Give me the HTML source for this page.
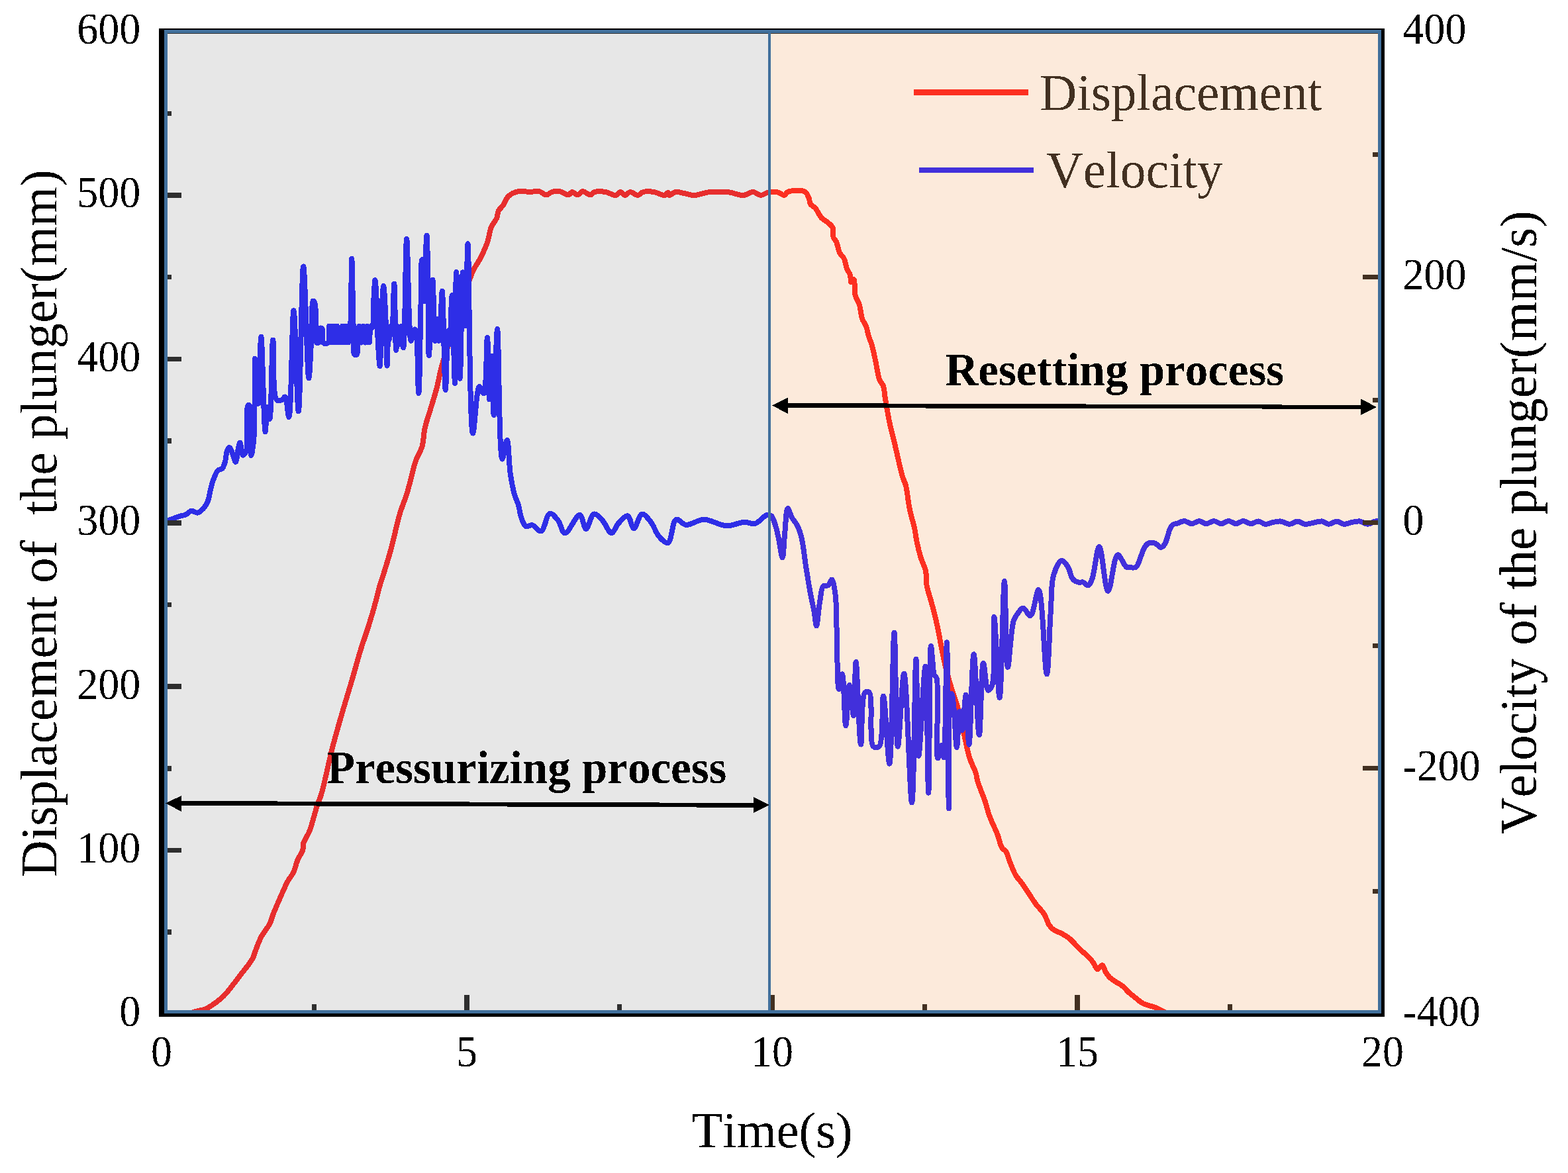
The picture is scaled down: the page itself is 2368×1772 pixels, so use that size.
<!DOCTYPE html>
<html><head><meta charset="utf-8"><title>Displacement and velocity of the plunger</title>
<style>
html,body{margin:0;padding:0;background:#fff;}
body{width:2368px;height:1772px;overflow:hidden;}
svg{display:block;}
text{font-family:"Liberation Serif","Times New Roman",serif;font-kerning:none;}
</style></head>
<body>
<svg width="2368" height="1772" viewBox="0 0 2368 1772">
<rect width="2368" height="1772" fill="#fff"/>
<defs><filter id="cr" x="-5%" y="-5%" width="110%" height="110%"><feComponentTransfer><feFuncA type="discrete" tableValues="0 1"/></feComponentTransfer></filter><clipPath id="pa"><rect x="248" y="45" width="1838" height="1486"/></clipPath></defs>
<g clip-path="url(#pa)" fill="none" stroke-linejoin="round" stroke-linecap="round" shape-rendering="crispEdges">
<path stroke="#ff0000" stroke-width="8" d="M244.0,1534.5 C244.0,1534.5 268.0,1535.2 276.0,1534.0 C281.0,1533.2 284.3,1531.7 288.0,1530.5 C291.2,1529.5 293.7,1528.4 297.0,1527.5 C300.9,1526.4 306.0,1526.1 310.0,1524.5 C314.0,1522.9 317.0,1520.7 321.0,1518.0 C326.2,1514.4 332.8,1509.5 338.0,1504.4 C343.2,1499.3 347.5,1493.2 352.0,1487.5 C356.5,1481.9 360.9,1475.8 365.0,1470.5 C368.7,1465.7 372.4,1461.2 375.4,1457.0 C377.9,1453.5 380.3,1450.4 382.0,1447.0 C383.6,1443.8 384.0,1441.1 385.5,1437.2 C387.8,1431.3 390.8,1422.3 394.5,1415.3 C398.2,1408.3 404.4,1401.5 407.5,1395.3 C409.9,1390.4 410.3,1386.7 412.4,1381.4 C415.2,1374.1 419.7,1363.9 423.4,1355.5 C427.0,1347.3 430.7,1338.4 434.4,1331.6 C437.3,1326.2 440.9,1322.7 443.3,1317.6 C445.9,1312.1 446.9,1305.4 449.3,1299.7 C451.6,1294.1 455.9,1288.5 457.3,1283.7 C458.3,1280.1 457.2,1277.4 458.3,1273.7 C459.8,1268.5 464.6,1262.4 467.3,1255.8 C470.4,1248.1 473.0,1237.2 475.2,1229.9 C476.8,1224.5 477.6,1220.7 479.2,1215.9 C480.9,1210.7 483.0,1207.3 485.2,1200.0 C489.8,1185.1 496.1,1152.4 501.8,1130.5 C506.9,1110.6 512.4,1091.9 517.6,1073.9 C522.4,1057.5 527.2,1042.2 531.7,1026.8 C536.1,1011.9 540.0,996.9 544.3,982.8 C548.3,969.7 552.9,957.7 556.8,945.1 C560.7,932.6 565.0,917.8 567.8,907.4 C569.8,900.0 570.6,895.2 572.5,888.5 C574.7,880.7 577.7,872.2 580.4,863.4 C583.4,853.5 587.1,841.9 589.8,832.0 C592.2,823.2 593.9,815.7 596.1,806.8 C598.6,796.9 600.9,785.8 604.0,775.4 C607.2,764.9 611.4,755.6 615.0,744.0 C619.4,729.9 623.3,709.2 627.8,696.5 C630.9,687.5 635.2,682.2 637.5,674.2 C640.0,665.6 639.6,655.6 641.7,646.4 C643.8,637.1 647.1,628.3 650.0,618.6 C653.1,608.0 657.0,596.2 659.8,585.3 C662.5,574.9 663.4,567.0 666.7,554.7 C671.9,535.5 682.1,506.1 690.0,482.0 C697.9,457.9 706.8,426.3 714.0,410.1 C717.9,401.3 721.6,397.7 725.1,390.7 C729.0,383.0 733.4,373.8 736.2,365.6 C738.8,358.1 739.2,349.8 741.8,343.4 C744.0,338.0 748.2,334.0 750.1,329.5 C751.7,325.7 751.2,321.7 752.9,318.4 C754.5,315.2 757.6,313.3 759.9,310.0 C762.7,306.0 764.3,299.6 768.2,296.1 C772.2,292.5 778.2,290.0 783.5,289.0 C788.8,288.0 794.9,290.0 800.2,290.0 C805.0,290.0 809.8,288.2 814.1,289.0 C818.1,289.8 821.8,294.6 825.2,294.5 C828.2,294.4 830.4,290.9 833.5,290.0 C836.9,289.0 840.8,288.4 844.7,289.0 C849.2,289.6 855.1,295.0 858.6,294.5 C861.0,294.1 862.0,290.2 864.1,290.0 C866.5,289.8 869.9,294.7 872.5,294.5 C875.0,294.3 876.6,289.4 879.4,289.0 C882.8,288.6 888.6,294.9 891.9,294.5 C894.4,294.2 895.3,290.9 898.0,290.0 C902.0,288.7 909.1,289.2 914.4,290.0 C919.7,290.8 925.8,295.6 929.9,295.0 C932.9,294.6 934.9,289.9 937.2,290.0 C939.5,290.1 941.4,294.9 943.7,295.0 C946.2,295.1 948.8,290.2 951.8,290.0 C955.2,289.8 959.8,295.2 963.2,295.0 C966.2,294.8 968.0,290.9 971.4,290.0 C975.8,288.8 982.3,289.2 987.7,290.0 C993.2,290.8 1000.2,295.7 1003.9,295.0 C1006.2,294.6 1007.5,290.8 1008.8,291.0 C1009.9,291.2 1010.0,294.7 1011.3,295.0 C1013.2,295.5 1016.8,290.6 1020.2,290.0 C1024.0,289.3 1028.7,291.2 1033.2,292.0 C1038.1,292.9 1043.2,295.1 1048.7,295.0 C1055.0,294.9 1062.6,291.3 1069.0,290.5 C1074.7,289.8 1079.9,290.0 1085.3,290.0 C1090.7,290.0 1095.8,289.8 1101.6,290.5 C1108.2,291.3 1116.3,295.4 1122.7,295.0 C1128.1,294.7 1132.8,289.8 1137.4,290.0 C1141.5,290.2 1145.0,294.9 1148.8,295.0 C1152.6,295.1 1156.1,291.3 1160.2,290.5 C1164.7,289.6 1170.5,289.6 1174.8,290.5 C1178.5,291.3 1182.0,295.5 1184.6,295.0 C1186.7,294.6 1186.9,291.1 1189.5,290.0 C1194.5,287.8 1210.1,286.6 1215.4,289.5 C1219.0,291.5 1220.3,296.3 1221.7,299.6 C1222.9,302.5 1222.3,305.7 1223.8,308.1 C1225.4,310.7 1228.8,311.6 1231.2,314.4 C1234.5,318.1 1237.3,325.5 1240.7,329.2 C1243.4,332.1 1246.5,333.1 1249.2,335.5 C1252.1,338.0 1256.1,340.4 1257.7,344.0 C1259.5,348.0 1257.4,355.0 1258.7,358.8 C1259.6,361.5 1261.6,362.4 1262.9,365.1 C1264.9,369.3 1265.9,377.5 1268.2,382.0 C1270.0,385.5 1272.9,387.1 1274.6,390.5 C1276.6,394.6 1277.1,400.9 1278.8,405.3 C1280.3,409.2 1283.1,412.3 1284.1,415.9 C1285.1,419.3 1283.9,426.0 1285.1,426.4 C1286.0,426.7 1288.3,421.8 1289.4,422.2 C1291.5,423.0 1289.8,438.7 1291.5,445.5 C1292.9,451.1 1296.1,454.8 1297.8,460.3 C1299.8,466.6 1300.0,475.4 1302.1,481.4 C1303.8,486.3 1306.8,489.8 1308.4,494.1 C1309.9,498.3 1310.3,502.4 1311.6,506.8 C1313.0,511.6 1315.2,516.1 1316.8,521.6 C1318.8,528.4 1320.3,536.6 1322.1,544.8 C1324.2,554.1 1325.8,567.7 1328.5,574.4 C1330.1,578.3 1332.5,579.3 1333.8,582.9 C1335.7,587.8 1335.6,594.5 1336.9,601.9 C1338.7,612.3 1341.2,628.2 1343.6,639.3 C1345.5,648.2 1347.5,654.7 1349.6,663.4 C1352.0,673.6 1354.8,686.5 1357.2,696.7 C1359.3,705.4 1361.1,714.2 1363.2,720.8 C1364.7,725.6 1366.4,727.7 1367.8,732.9 C1370.2,741.7 1371.4,757.7 1373.8,769.2 C1376.0,779.8 1379.6,790.6 1381.4,799.4 C1382.8,806.2 1383.1,811.1 1384.4,817.5 C1386.0,825.0 1388.1,834.0 1390.4,841.7 C1392.6,849.0 1396.5,855.7 1398.0,862.8 C1399.5,869.8 1398.2,876.6 1399.5,884.0 C1401.0,892.6 1404.5,901.9 1407.0,911.2 C1409.6,921.0 1412.3,931.3 1414.6,941.4 C1416.9,951.4 1418.6,961.5 1420.6,971.6 C1422.6,981.7 1424.2,991.1 1426.7,1001.8 C1429.6,1014.1 1433.7,1029.2 1437.3,1041.1 C1440.3,1051.0 1443.5,1058.2 1446.3,1068.3 C1449.7,1080.5 1452.8,1096.0 1455.9,1109.2 C1458.8,1121.6 1461.0,1134.5 1464.4,1145.1 C1467.2,1153.8 1472.0,1162.1 1473.9,1168.4 C1475.1,1172.5 1475.0,1175.2 1476.0,1179.0 C1477.3,1183.6 1479.4,1188.7 1481.3,1193.8 C1483.3,1199.3 1485.7,1204.7 1487.7,1210.7 C1489.9,1217.3 1491.8,1225.7 1494.0,1231.8 C1495.7,1236.6 1497.4,1240.0 1499.3,1244.5 C1501.5,1249.7 1504.5,1255.5 1506.7,1261.4 C1509.0,1267.5 1510.3,1276.0 1513.0,1280.4 C1514.8,1283.4 1517.5,1283.9 1519.4,1286.8 C1522.0,1290.9 1523.3,1297.9 1525.7,1303.7 C1528.2,1309.9 1531.0,1317.4 1534.2,1322.7 C1536.8,1326.9 1539.6,1329.2 1542.6,1333.3 C1546.5,1338.6 1551.5,1346.6 1555.3,1352.3 C1558.4,1357.0 1560.6,1360.7 1563.8,1365.0 C1567.4,1369.9 1573.3,1375.6 1576.2,1380.0 C1578.2,1383.0 1579.0,1385.4 1580.4,1388.3 C1581.8,1391.3 1582.7,1394.9 1584.6,1397.7 C1586.5,1400.5 1588.9,1403.0 1591.8,1405.0 C1595.0,1407.2 1599.5,1408.2 1603.3,1410.2 C1607.2,1412.3 1611.2,1414.6 1614.7,1417.4 C1618.2,1420.2 1620.9,1423.6 1624.1,1426.8 C1627.5,1430.2 1630.9,1433.8 1634.5,1437.2 C1638.2,1440.7 1642.8,1444.2 1645.9,1447.6 C1648.4,1450.4 1650.2,1453.1 1652.1,1455.9 C1654.0,1458.6 1655.2,1463.9 1657.3,1464.2 C1659.4,1464.5 1662.6,1457.6 1664.6,1458.0 C1666.8,1458.5 1667.9,1465.3 1669.8,1468.4 C1671.4,1471.1 1672.8,1473.4 1675.0,1475.7 C1677.5,1478.3 1681.1,1480.7 1684.4,1482.9 C1687.7,1485.2 1691.5,1486.6 1694.8,1489.2 C1698.4,1492.1 1701.6,1496.4 1705.2,1499.6 C1708.6,1502.6 1712.2,1505.2 1715.6,1507.9 C1718.8,1510.4 1721.5,1513.3 1724.9,1515.2 C1728.4,1517.2 1732.8,1518.3 1736.4,1519.5 C1739.5,1520.5 1741.8,1520.7 1745.0,1522.0 C1749.6,1523.8 1755.8,1528.0 1761.0,1530.0 C1765.7,1531.8 1769.6,1533.1 1775.0,1534.0 C1782.1,1535.1 1787.1,1534.7 1800.0,1535.0 C1843.7,1535.9 2088.0,1535.0 2088.0,1535.0"/>
<path stroke="#0000ff" stroke-width="8" d="M244.0,787.0 C244.0,787.0 250.0,786.9 252.9,786.3 C255.9,785.7 258.6,784.4 261.6,783.4 C264.9,782.3 268.5,780.7 271.8,779.7 C274.8,778.8 277.7,778.7 280.5,777.5 C283.5,776.2 286.2,772.1 289.2,771.7 C292.0,771.3 295.1,775.0 297.9,774.6 C300.9,774.2 304.1,771.4 306.6,768.8 C309.5,765.8 311.9,761.7 313.8,757.2 C316.0,751.8 316.7,744.2 318.2,738.4 C319.6,733.2 320.7,728.5 322.5,723.9 C324.3,719.3 326.3,713.4 329.0,710.8 C330.9,709.0 333.9,709.7 335.6,707.9 C337.7,705.7 338.8,701.6 339.9,697.8 C341.3,693.1 341.3,685.7 342.8,681.8 C343.8,679.3 345.1,675.9 346.4,676.0 C348.0,676.1 349.9,682.6 351.5,686.2 C353.1,689.9 354.6,697.9 355.9,697.8 C357.6,697.7 358.9,681.3 360.2,676.0 C361.0,672.9 361.6,668.8 362.4,668.8 C363.7,668.8 364.6,687.1 366.8,687.6 C368.2,687.9 370.5,685.2 371.8,681.8 C375.8,671.6 370.7,614.0 374.5,612.0 C375.4,611.5 376.7,612.4 377.6,614.0 C381.5,620.9 377.7,687.9 379.3,688.0 C380.3,688.1 382.4,673.6 383.4,661.5 C385.5,636.0 384.0,541.5 385.1,541.5 C385.7,541.5 386.7,563.7 387.3,575.0 C387.9,586.5 386.8,608.9 388.8,610.0 C389.3,610.3 390.0,609.8 390.5,609.0 C392.9,604.9 391.4,576.5 392.0,560.0 C392.7,543.1 393.4,508.6 394.4,508.6 C396.0,508.6 398.6,652.3 400.6,652.3 C401.6,652.3 402.3,615.1 403.7,615.0 C404.7,614.9 406.3,633.2 407.3,633.1 C410.0,632.9 410.3,513.5 412.2,513.5 C413.9,513.5 410.7,597.4 418.0,604.2 C420.1,606.2 423.6,605.1 425.7,604.2 C427.7,603.4 429.1,599.1 430.5,599.5 C433.5,600.4 434.6,630.1 436.3,630.0 C440.1,629.7 441.0,469.0 443.5,469.0 C445.9,469.0 448.5,621.4 450.8,621.4 C453.5,621.4 455.4,402.4 458.2,402.4 C460.7,402.4 464.0,571.2 466.3,571.2 C467.6,571.2 468.9,537.6 469.8,520.0 C470.7,501.3 470.3,472.2 471.5,462.0 C471.9,458.3 472.2,454.7 473.0,454.5 C473.6,454.4 474.9,456.2 475.5,458.0 C477.0,462.1 476.6,471.7 477.0,480.0 C477.5,490.8 475.0,514.6 478.0,517.5 C478.9,518.4 480.6,518.3 481.5,517.5 C483.7,515.4 480.8,498.1 483.0,496.0 C483.9,495.2 485.6,495.2 486.5,496.0 C488.8,498.1 485.7,515.4 488.5,518.0 C490.0,519.4 493.4,519.4 495.0,518.0 C498.1,515.2 496.2,492.5 497.0,492.5 C497.8,492.5 499.0,517.5 500.0,517.5 C501.0,517.5 502.0,492.5 503.0,492.5 C504.0,492.5 505.0,517.5 506.0,517.5 C507.0,517.5 508.0,492.5 509.0,492.5 C510.0,492.5 511.3,517.5 512.0,517.5 C512.4,517.5 512.6,508.0 513.0,508.0 C513.4,508.0 514.0,517.5 514.5,517.5 C515.3,517.5 516.1,492.5 517.0,492.5 C517.9,492.5 519.0,517.5 520.0,517.5 C521.0,517.5 522.0,492.5 523.0,492.5 C524.0,492.5 524.9,517.5 526.0,517.5 C526.9,517.5 528.0,508.4 528.8,500.0 C530.7,479.2 530.4,390.6 531.2,390.6 C532.0,390.6 532.9,473.5 533.8,500.0 C534.3,515.1 532.5,532.8 535.5,535.6 C536.4,536.5 538.1,536.4 539.0,535.6 C541.0,533.8 540.0,524.0 540.5,517.5 C541.1,509.8 541.7,492.5 542.5,492.5 C543.3,492.5 544.5,517.5 545.5,517.5 C546.5,517.5 547.5,492.5 548.5,492.5 C549.5,492.5 550.5,517.5 551.5,517.5 C552.5,517.5 553.7,492.5 554.5,492.5 C555.2,492.5 555.5,517.5 556.0,517.5 C556.3,517.5 556.7,507.0 557.0,507.0 C557.3,507.0 557.6,517.5 558.0,517.5 C558.6,517.5 558.2,493.2 560.0,492.5 C560.7,492.3 561.8,495.3 562.5,495.0 C565.0,494.0 563.7,463.1 564.5,450.0 C565.1,439.9 565.8,423.0 566.5,423.0 C567.2,423.0 568.0,439.6 568.5,450.0 C569.2,464.1 569.2,483.1 570.0,500.0 C570.9,517.4 572.6,553.0 573.6,553.0 C574.9,553.0 575.3,492.3 576.5,470.0 C577.3,454.9 578.3,432.0 579.2,432.0 C580.1,432.0 581.2,454.9 582.0,470.0 C583.2,492.2 583.8,552.6 584.6,552.6 C585.3,552.6 585.6,500.0 586.5,500.0 C586.9,500.0 587.5,513.0 588.0,513.0 C588.6,513.0 589.2,493.0 590.0,493.0 C590.6,493.0 591.4,505.0 592.0,505.0 C593.5,504.9 594.3,428.7 595.3,428.7 C596.4,428.7 597.0,528.9 598.2,528.9 C598.9,528.9 599.6,493.0 600.5,493.0 C601.3,493.0 602.2,520.0 603.0,520.0 C603.8,520.0 604.5,493.0 605.5,493.0 C606.6,493.0 608.1,525.5 609.2,525.5 C611.6,525.4 612.5,360.7 614.1,360.7 C615.6,360.7 616.9,466.4 618.5,492.2 C619.2,502.9 619.4,514.9 620.5,515.0 C621.4,515.1 622.3,502.7 624.0,500.0 C624.9,498.6 626.1,497.2 627.0,497.6 C631.5,499.6 630.8,594.3 632.2,594.3 C633.8,594.3 634.5,497.2 635.5,460.0 C636.2,433.5 635.3,392.5 637.5,392.0 C638.1,391.9 639.0,393.8 639.5,396.0 C641.5,404.0 640.3,455.0 640.8,455.0 C641.3,455.0 641.6,417.4 642.3,400.0 C642.9,384.4 643.9,355.5 644.5,355.5 C645.3,355.5 645.8,395.3 646.3,420.0 C647.0,453.3 646.6,537.2 647.8,537.2 C649.0,537.2 651.7,422.6 653.3,422.6 C654.7,422.6 655.5,514.8 657.0,514.8 C657.9,514.8 659.1,482.0 660.0,482.0 C660.9,482.0 661.6,515.0 662.5,515.0 C663.3,515.0 664.2,499.8 665.0,490.0 C666.1,476.1 666.9,439.6 667.8,439.6 C669.4,439.6 671.2,588.9 672.8,588.9 C674.1,588.9 674.9,500.1 676.5,500.0 C677.3,500.0 678.2,520.0 679.0,520.0 C680.5,519.9 681.4,446.1 682.6,446.1 C684.1,446.1 685.9,579.2 687.0,579.2 C688.2,579.2 687.8,410.9 689.1,410.9 C690.4,410.9 693.0,571.9 694.6,571.9 C696.2,571.9 697.1,411.3 698.9,411.3 C700.2,411.3 702.1,492.2 703.3,492.2 C704.8,492.2 705.2,368.3 706.5,368.3 C708.5,368.3 708.9,654.3 714.1,654.6 C716.7,654.7 719.2,585.1 723.9,584.1 C725.8,583.7 728.6,594.8 730.4,594.3 C735.1,593.1 734.5,510.2 735.9,510.2 C737.4,510.2 737.7,603.5 739.1,603.5 C740.3,603.5 742.4,537.8 743.5,537.8 C744.8,537.8 744.6,627.0 745.7,627.0 C747.0,627.0 749.2,497.2 751.1,497.2 C753.4,497.2 753.4,693.1 758.5,693.6 C760.5,693.8 763.8,664.7 765.7,664.8 C768.2,665.0 768.6,701.3 770.8,716.2 C772.5,727.8 774.6,738.4 777.0,747.0 C778.8,753.4 781.4,757.7 783.1,763.4 C784.8,769.3 785.1,776.4 787.2,781.9 C789.0,786.9 791.2,793.8 794.4,795.3 C797.0,796.5 800.5,792.6 803.7,793.2 C807.9,794.0 813.1,803.4 817.0,802.4 C822.4,801.0 825.3,776.9 830.4,775.8 C834.1,775.0 839.1,781.6 842.7,786.0 C846.9,791.1 848.5,805.0 853.0,805.5 C858.8,806.1 870.1,777.1 875.6,777.8 C880.0,778.4 881.5,798.9 885.0,799.0 C888.6,799.1 892.2,777.6 897.0,776.5 C900.8,775.7 905.8,782.0 909.8,786.1 C914.7,791.1 919.1,805.1 923.4,805.1 C927.2,805.1 930.2,794.5 934.3,790.2 C938.3,786.0 944.1,778.5 947.8,779.3 C951.9,780.2 953.9,798.2 957.3,798.3 C961.0,798.4 964.8,777.4 969.5,776.6 C973.5,775.9 979.1,783.8 983.1,788.8 C987.8,794.7 990.4,805.1 995.3,810.5 C999.3,814.9 1005.0,821.2 1008.8,820.0 C1014.5,818.2 1015.1,787.1 1021.1,784.8 C1025.2,783.2 1030.1,792.3 1036.0,792.9 C1043.6,793.7 1053.5,784.9 1063.1,784.8 C1073.8,784.7 1086.3,793.9 1097.0,794.3 C1106.5,794.6 1116.2,789.1 1124.1,788.8 C1130.2,788.6 1135.1,792.3 1140.4,790.9 C1146.5,789.3 1153.3,779.1 1158.0,778.0 C1160.6,777.4 1162.9,777.8 1164.8,779.3 C1167.5,781.4 1168.9,787.4 1170.6,792.3 C1172.7,798.4 1174.2,805.8 1175.9,813.4 C1177.9,822.2 1180.1,842.3 1181.6,842.2 C1183.4,842.1 1184.0,815.5 1185.4,802.8 C1186.7,790.8 1187.1,768.2 1189.6,767.8 C1191.2,767.5 1193.4,777.3 1195.9,781.7 C1198.4,786.1 1202.0,789.6 1204.4,794.4 C1207.1,799.9 1208.9,805.7 1210.7,813.4 C1213.4,824.6 1214.9,842.0 1217.1,855.7 C1219.2,868.7 1221.2,881.6 1223.4,893.7 C1225.4,904.8 1228.1,916.0 1229.8,925.4 C1231.1,932.8 1231.8,945.5 1232.9,945.5 C1234.5,945.5 1236.2,919.4 1238.2,908.5 C1239.8,899.8 1240.0,888.5 1243.5,885.3 C1245.4,883.5 1248.9,885.5 1250.9,884.2 C1253.3,882.6 1254.7,875.4 1256.2,875.6 C1258.5,876.0 1260.3,888.9 1261.5,898.0 C1263.4,911.8 1263.1,933.2 1263.6,950.8 C1264.1,968.4 1264.0,987.5 1264.6,1003.6 C1265.1,1017.1 1265.2,1040.9 1266.7,1041.0 C1267.9,1041.1 1270.4,1018.2 1271.9,1018.3 C1274.6,1018.5 1275.4,1096.3 1277.3,1096.3 C1279.0,1096.3 1280.6,1035.1 1282.7,1035.0 C1284.6,1035.0 1287.4,1081.1 1289.0,1081.0 C1291.1,1080.9 1291.0,1000.0 1292.6,1000.0 C1294.5,1000.0 1297.5,1124.6 1300.1,1124.6 C1302.1,1124.6 1300.1,1051.8 1306.4,1046.0 C1308.2,1044.4 1310.9,1044.4 1312.7,1046.0 C1319.1,1051.9 1311.7,1121.0 1318.9,1127.7 C1321.3,1129.9 1325.2,1129.9 1327.6,1127.7 C1334.6,1121.3 1331.6,1051.5 1334.0,1051.5 C1336.8,1051.5 1340.8,1153.8 1343.3,1153.7 C1346.8,1153.6 1348.3,955.7 1350.5,955.7 C1352.5,955.7 1352.9,1127.6 1355.9,1127.7 C1358.3,1127.8 1362.2,1017.5 1365.3,1017.5 C1369.4,1017.6 1374.1,1212.6 1377.1,1212.6 C1380.3,1212.6 1381.6,995.5 1383.4,995.5 C1384.9,995.5 1384.9,1141.8 1387.3,1141.9 C1389.6,1142.0 1395.1,1006.5 1397.5,1006.6 C1400.4,1006.7 1400.8,1197.7 1402.2,1197.7 C1403.7,1197.7 1403.6,976.1 1405.9,976.0 C1406.7,976.0 1407.6,992.4 1408.5,1000.0 C1409.3,1007.0 1409.3,1015.9 1411.0,1020.0 C1411.9,1022.1 1413.4,1021.6 1414.4,1024.2 C1418.9,1036.7 1412.5,1144.9 1416.2,1145.4 C1417.7,1145.6 1420.8,1125.8 1422.3,1125.9 C1423.8,1126.0 1424.5,1144.5 1425.4,1144.4 C1428.1,1144.2 1428.7,970.3 1429.9,970.3 C1431.4,970.3 1431.9,1221.4 1433.0,1221.4 C1433.9,1221.4 1430.3,1051.2 1435.7,1047.9 C1436.3,1047.5 1437.1,1048.0 1437.7,1048.9 C1441.5,1054.4 1442.9,1129.0 1444.9,1129.0 C1446.5,1129.0 1447.3,1074.7 1449.0,1074.6 C1450.2,1074.6 1451.7,1103.3 1453.1,1103.3 C1455.0,1103.3 1457.1,1049.5 1458.7,1049.5 C1460.6,1049.5 1461.7,1124.9 1463.4,1124.9 C1465.6,1124.9 1467.9,988.3 1470.6,988.3 C1473.1,988.3 1476.3,1110.1 1478.8,1110.1 C1481.1,1110.1 1481.8,1001.9 1485.0,1001.7 C1487.0,1001.6 1488.5,1041.7 1492.2,1042.7 C1493.9,1043.2 1496.7,1039.8 1498.3,1035.6 C1503.7,1021.6 1499.7,932.0 1501.4,932.0 C1503.3,932.0 1507.2,1054.0 1509.6,1054.0 C1512.5,1054.0 1514.7,878.2 1516.9,878.2 C1518.8,878.2 1518.9,1007.7 1521.9,1007.8 C1524.1,1007.9 1526.5,950.6 1530.8,937.6 C1532.6,932.2 1534.4,930.0 1536.8,926.8 C1539.2,923.7 1542.3,918.4 1545.3,918.5 C1548.7,918.6 1552.9,930.9 1556.1,930.2 C1561.3,929.1 1565.0,890.6 1568.5,891.0 C1574.6,891.6 1577.7,1018.6 1580.8,1018.5 C1583.5,1018.5 1584.8,950.8 1586.8,923.5 C1588.3,902.8 1587.0,882.6 1591.2,868.8 C1594.0,859.5 1599.1,847.6 1603.3,847.0 C1606.4,846.6 1610.2,852.6 1612.9,856.7 C1616.1,861.6 1616.9,871.0 1620.2,874.8 C1622.6,877.5 1625.8,878.9 1628.6,879.6 C1631.0,880.2 1633.6,878.9 1635.9,879.6 C1638.4,880.4 1641.0,884.9 1643.1,884.5 C1645.5,884.0 1647.3,879.5 1649.2,874.8 C1653.2,865.0 1656.4,826.0 1660.1,826.0 C1664.4,826.1 1668.5,892.7 1673.4,892.9 C1677.9,893.0 1681.7,839.4 1687.9,838.3 C1691.8,837.6 1697.1,854.4 1701.2,856.7 C1703.3,857.9 1705.0,857.3 1707.2,857.3 C1709.8,857.3 1713.4,858.3 1715.7,856.7 C1719.0,854.4 1720.5,846.4 1722.6,841.4 C1724.6,836.8 1725.7,831.5 1728.0,827.8 C1729.8,824.8 1731.8,821.8 1734.4,820.6 C1736.7,819.5 1740.2,819.6 1742.5,820.1 C1744.3,820.5 1745.4,821.4 1747.0,822.4 C1749.0,823.6 1751.3,827.0 1753.3,826.9 C1755.2,826.8 1757.3,824.5 1758.8,822.4 C1760.8,819.6 1761.9,814.5 1763.3,810.6 C1764.6,806.7 1765.3,802.1 1766.9,798.9 C1768.2,796.3 1769.5,793.9 1771.4,792.5 C1773.2,791.2 1775.4,791.4 1777.8,790.7 C1780.9,789.7 1785.0,787.0 1788.6,787.1 C1792.2,787.2 1795.8,791.2 1799.5,791.2 C1803.3,791.2 1807.4,787.0 1811.2,787.1 C1814.8,787.2 1818.0,791.1 1821.6,791.2 C1825.4,791.3 1829.6,787.0 1833.4,787.1 C1837.1,787.2 1840.6,791.2 1844.2,791.2 C1847.9,791.2 1851.8,787.1 1855.5,787.1 C1859.2,787.1 1862.7,791.2 1866.4,791.2 C1870.1,791.2 1873.9,787.1 1877.7,787.1 C1881.5,787.1 1885.2,791.1 1889.0,791.2 C1892.8,791.3 1896.7,787.4 1900.4,787.5 C1904.0,787.6 1907.2,791.5 1910.9,791.8 C1914.8,792.1 1919.2,789.6 1923.2,788.9 C1926.8,788.2 1930.0,787.2 1933.7,787.5 C1938.1,787.9 1943.4,791.9 1947.9,791.8 C1952.1,791.7 1955.9,787.4 1959.8,787.5 C1963.5,787.6 1966.8,791.4 1970.7,791.8 C1975.1,792.3 1980.4,790.2 1984.9,789.4 C1988.9,788.7 1992.6,787.1 1996.3,787.5 C1999.9,787.9 2003.1,791.7 2006.8,791.8 C2010.7,791.9 2015.2,787.4 2019.1,787.5 C2022.8,787.6 2025.9,791.5 2029.6,791.8 C2033.5,792.1 2037.9,789.6 2041.9,788.9 C2045.8,788.2 2049.5,787.1 2053.3,787.5 C2057.4,787.9 2061.6,791.8 2065.6,791.8 C2069.5,791.8 2073.0,788.2 2077.0,787.5 C2081.1,786.7 2090.0,787.5 2090.0,787.5"/>
</g>
<g fill="#000" shape-rendering="crispEdges">
<rect x="253.0" y="1404.2" width="6.0" height="7.6"/>
<rect x="253.0" y="1280.6" width="21.0" height="7.6"/>
<rect x="253.0" y="1156.9" width="6.0" height="7.6"/>
<rect x="253.0" y="1033.2" width="21.0" height="7.6"/>
<rect x="253.0" y="909.5" width="6.0" height="7.6"/>
<rect x="253.0" y="785.9" width="21.0" height="7.6"/>
<rect x="253.0" y="662.2" width="6.0" height="7.6"/>
<rect x="253.0" y="538.5" width="21.0" height="7.6"/>
<rect x="253.0" y="414.8" width="6.0" height="7.6"/>
<rect x="253.0" y="291.2" width="21.0" height="7.6"/>
<rect x="253.0" y="167.5" width="6.0" height="7.6"/>
<rect x="2073.0" y="1342.7" width="8.0" height="7.0"/>
<rect x="2058.0" y="1157.2" width="23.0" height="7.0"/>
<rect x="2073.0" y="971.7" width="8.0" height="7.0"/>
<rect x="2058.0" y="786.2" width="23.0" height="7.0"/>
<rect x="2073.0" y="600.7" width="8.0" height="7.0"/>
<rect x="2058.0" y="415.2" width="23.0" height="7.0"/>
<rect x="2073.0" y="229.7" width="8.0" height="7.0"/>
<rect x="470.6" y="1517.0" width="7.8" height="9.0"/>
<rect x="701.1" y="1503.0" width="7.8" height="23.0"/>
<rect x="931.6" y="1517.0" width="7.8" height="9.0"/>
<rect x="1162.1" y="1503.0" width="7.8" height="23.0"/>
<rect x="1392.6" y="1517.0" width="7.8" height="9.0"/>
<rect x="1623.1" y="1503.0" width="7.8" height="23.0"/>
<rect x="1853.6" y="1517.0" width="7.8" height="9.0"/>
<rect x="253" y="50" width="1828" height="1.2"/>
</g>
<!-- legend -->
<rect x="1380" y="134.7" width="173" height="9" fill="#ff0000" shape-rendering="crispEdges"/>
<rect x="1387.7" y="252.6" width="173" height="8" fill="#0000ff" shape-rendering="crispEdges"/>
<g font-size="77.5" fill="#000" filter="url(#cr)">
<text x="1570.2" y="166">Displacement</text>
<text x="1579.9" y="283.3">Velocity</text>
</g>
<!-- translucent panels -->
<rect x="253" y="50" width="907" height="1476" fill="rgb(168,168,168)" fill-opacity="0.2745" shape-rendering="crispEdges"/>
<rect x="1164" y="50" width="917" height="1476" fill="rgb(244,178,122)" fill-opacity="0.27" shape-rendering="crispEdges"/>
<!-- borders -->
<g fill="#41709c" shape-rendering="crispEdges">
<rect x="248" y="45" width="1838" height="5"/>
<rect x="248" y="1526" width="1838" height="5"/>
<rect x="248" y="45" width="5" height="1486"/>
<rect x="2081" y="45" width="5" height="1486"/>
<rect x="1160" y="45" width="4" height="1486"/>
</g>
<g fill="#000" shape-rendering="crispEdges">
<rect x="240" y="43" width="8" height="1493"/>
<rect x="240" y="43" width="1851" height="2"/>
<rect x="2086" y="43" width="5" height="1493"/>
<rect x="240" y="1531" width="1851" height="5"/>
</g>
<!-- arrows -->
<g fill="#000" shape-rendering="crispEdges">
<polygon points="1166,612.5 1190,600.7 1190,609 2055,611.9 2055,602.7 2079.2,614.9 2055,627.1 2055,617.8 1190,616.1 1190,625.1"/>
<polygon points="250,1213.5 274,1201.9 274,1210 1138,1213 1138,1204 1162,1215.9 1138,1227.9 1138,1219.8 274,1216.8 274,1225.9"/>
</g>
<g font-size="69" font-weight="bold" fill="#000" filter="url(#cr)">
<text x="1427.5" y="582.1">Resetting process</text>
<text x="493.8" y="1183">Pressurizing process</text>
</g>
<!-- tick labels -->
<g font-size="64" fill="#000" filter="url(#cr)">
<text transform="translate(212.2,1550.2) scale(1,1.045)" text-anchor="end">0</text>
<text transform="translate(212.2,1302.9) scale(1,1.045)" text-anchor="end">100</text>
<text transform="translate(212.2,1055.5) scale(1,1.045)" text-anchor="end">200</text>
<text transform="translate(212.2,808.2) scale(1,1.045)" text-anchor="end">300</text>
<text transform="translate(212.2,560.8) scale(1,1.045)" text-anchor="end">400</text>
<text transform="translate(212.2,313.5) scale(1,1.045)" text-anchor="end">500</text>
<text transform="translate(212.2,66.1) scale(1,1.045)" text-anchor="end">600</text>
<text transform="translate(2118.5,1549.9) scale(1,1.045)">-400</text>
<text transform="translate(2118.5,1178.9) scale(1,1.045)">-200</text>
<text transform="translate(2118.5,807.9) scale(1,1.045)">0</text>
<text transform="translate(2118.5,436.9) scale(1,1.045)">200</text>
<text transform="translate(2118.5,65.9) scale(1,1.045)">400</text>
<text transform="translate(244.0,1611.3) scale(1,1.045)" text-anchor="middle">0</text>
<text transform="translate(705.0,1611.3) scale(1,1.045)" text-anchor="middle">5</text>
<text transform="translate(1166.0,1611.3) scale(1,1.045)" text-anchor="middle">10</text>
<text transform="translate(1627.0,1611.3) scale(1,1.045)" text-anchor="middle">15</text>
<text transform="translate(2088.0,1611.3) scale(1,1.045)" text-anchor="middle">20</text>
</g>
<!-- axis titles -->
<g font-size="77.3" fill="#000" filter="url(#cr)">
<text x="1044.5" y="1733" font-size="76.8">Time(s)</text>
<text transform="translate(85,1325.2) rotate(-90)" style="white-space:pre" xml:space="preserve">Displacement of  the plunger(mm)</text>
<text transform="translate(2319.5,1260.4) rotate(-90)">Velocity of the plunger(mm/s)</text>
</g>
</svg>
</body></html>
